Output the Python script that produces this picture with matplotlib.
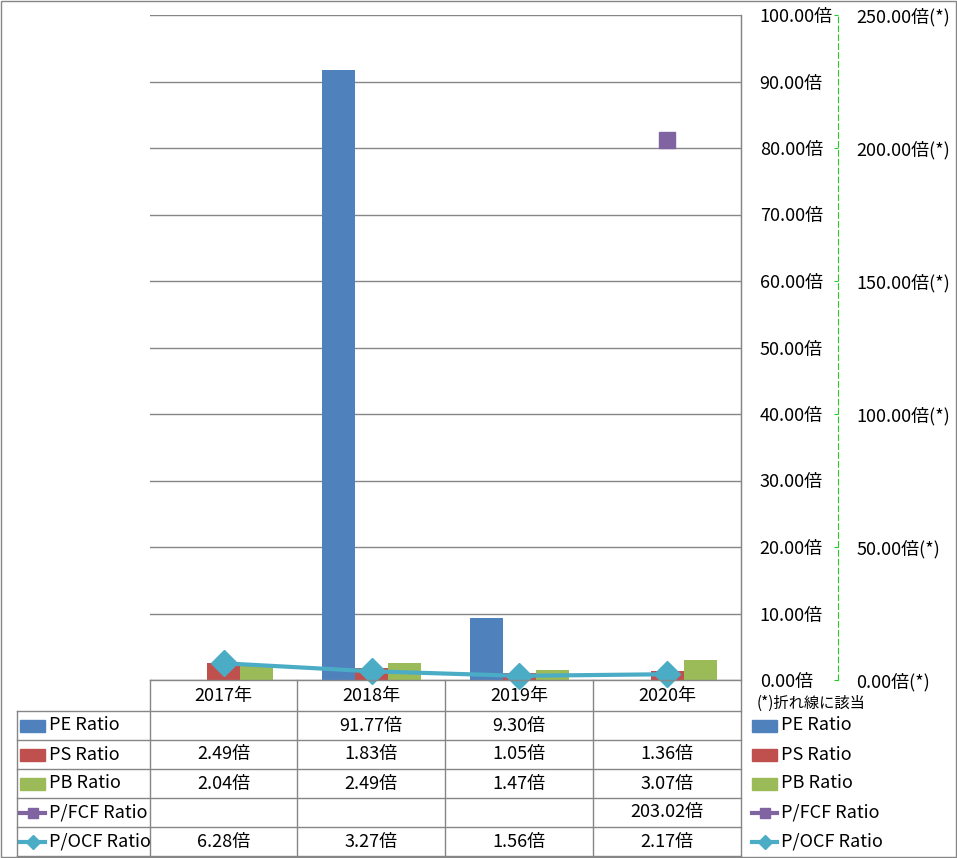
import numpy as np
import matplotlib
matplotlib.use("Agg")
import matplotlib.pyplot as plt
from matplotlib.lines import Line2D
from matplotlib.patches import Rectangle

plt.rcParams['font.family'] = ['Noto Sans CJK JP', 'DejaVu Sans']

categories = ["2017年", "2018年", "2019年", "2020年"]
pe_ratio = [np.nan, 91.77, 9.30, np.nan]
ps_ratio = [2.49, 1.83, 1.05, 1.36]
pb_ratio = [2.04, 2.49, 1.47, 3.07]
pfcf_ratio = [np.nan, np.nan, np.nan, 203.02]
pocf_ratio = [6.28, 3.27, 1.56, 2.17]
series_names = ["PE Ratio", "PS Ratio", "PB Ratio", "P/FCF Ratio", "P/OCF Ratio"]
left_ticks = [0, 10, 20, 30, 40, 50, 60, 70, 80, 90, 100]
right_ticks = [0, 50, 100, 150, 200, 250]

colors = ["#4F81BD", "#C0504D", "#9BBB59", "#8064A2", "#4BACC6"]
grid_c = "#868686"
FS = 13
W, H = 957, 858
fig = plt.figure(figsize=(W/100, H/100), dpi=100)

def X(x): return x / W
def Y(y): return 1 - y / H

L, R, T, B = 150, 741, 15, 680
ax = fig.add_axes([X(L), Y(B), (R-L)/W, (B-T)/H])
ax2 = ax.twinx()

xs = np.arange(len(categories))
bw = 0.223
for i, (vals, c) in enumerate(zip([pe_ratio, ps_ratio, pb_ratio], colors[:3])):
    ax.bar(xs + (i-1)*bw, vals, width=bw, color=c, zorder=3)

ax.set_xlim(-0.5, len(categories)-0.5)
ax.set_ylim(0, 100)
ax.yaxis.tick_right()
ax.set_yticks(left_ticks)
ax.set_yticklabels([f"{v:.2f}倍" for v in left_ticks])
ax.tick_params(axis='y', length=0, pad=13.5, labelsize=FS)
ax.set_xticks([])
ax.grid(axis='y', color=grid_c, lw=1, zorder=0)
for s in ['left', 'top', 'bottom']:
    ax.spines[s].set_visible(False)
ax.spines['right'].set_color(grid_c)

for s in ['left', 'top', 'bottom']:
    ax2.spines[s].set_visible(False)
ax2.spines['right'].set_position(('outward', 97 * 0.72))
ax2.spines['right'].set_color('#22CC22')
ax2.spines['right'].set_linestyle((0, (5, 3)))
ax2.set_ylim(0, 250)
ax2.plot(xs, pocf_ratio, color=colors[4], lw=3, marker='D', markersize=13,
         markeredgecolor=colors[4], zorder=5, clip_on=False)
ax2.plot(xs, pfcf_ratio, color=colors[3], lw=3, marker='s', markersize=12,
         markeredgecolor=colors[3], zorder=5, clip_on=False)
ax2.set_yticks(right_ticks)
ax2.set_yticklabels([f"{v:.2f}倍(*)" for v in right_ticks])
ax2.tick_params(axis='y', colors='#22CC22', labelcolor='black', direction='in',
                length=3, pad=13, labelsize=FS)

# table lines
def hline(y, x0, x1):
    fig.add_artist(Line2D([X(x0), X(x1)], [Y(y), Y(y)], color=grid_c, lw=1))
def vline(x, y0, y1):
    fig.add_artist(Line2D([X(x), X(x)], [Y(y0), Y(y1)], color=grid_c, lw=1))

col_edges = [150, 297, 445, 593, 741]
row_edges = [680, 711, 740, 769, 798, 827, 856]
hline(680, 150, 741)
for y in row_edges[1:]:
    hline(y, 17, 741)
vline(17, 711, 856)
for x in col_edges:
    vline(x, 680 if x != 741 else 15, 856)

# outer frame
fig.add_artist(Rectangle((X(0.5), Y(856.5)), (W-2)/W, (855.5)/H, fill=False,
                         edgecolor=grid_c, lw=1))

# header
for i, c in enumerate(categories):
    cx = (col_edges[i] + col_edges[i+1]) / 2
    fig.text(X(cx), Y(695.5), c, ha='center', va='center', fontsize=FS)

fig.text(X(757), Y(703), "(*)折れ線に該当", ha='left', va='center', fontsize=11)

all_vals = [pe_ratio, ps_ratio, pb_ratio, pfcf_ratio, pocf_ratio]
for r, (name, vals) in enumerate(zip(series_names, all_vals)):
    cy = (row_edges[r+1] + row_edges[r+2]) / 2
    for kx, tx in [(20, 49), (752, 781)]:
        if r < 3:
            fig.add_artist(Rectangle((X(kx), Y(cy+6)), 25/W, 12/H, color=colors[r]))
        else:
            fig.add_artist(Line2D([X(kx), X(kx+25)], [Y(cy), Y(cy)], color=colors[r], lw=3))
            fig.add_artist(Line2D([X(kx+12.5)], [Y(cy)], color=colors[r],
                                  marker='s' if r == 3 else 'D', markersize=7 if r == 3 else 7.5))
        fig.text(X(tx), Y(cy), name, ha='left', va='center', fontsize=FS)
    for i, v in enumerate(vals):
        if not np.isnan(v):
            cx = (col_edges[i] + col_edges[i+1]) / 2
            fig.text(X(cx), Y(cy), f"{v:.2f}倍", ha='center', va='center', fontsize=FS)

fig.savefig("out.png", dpi=100)
